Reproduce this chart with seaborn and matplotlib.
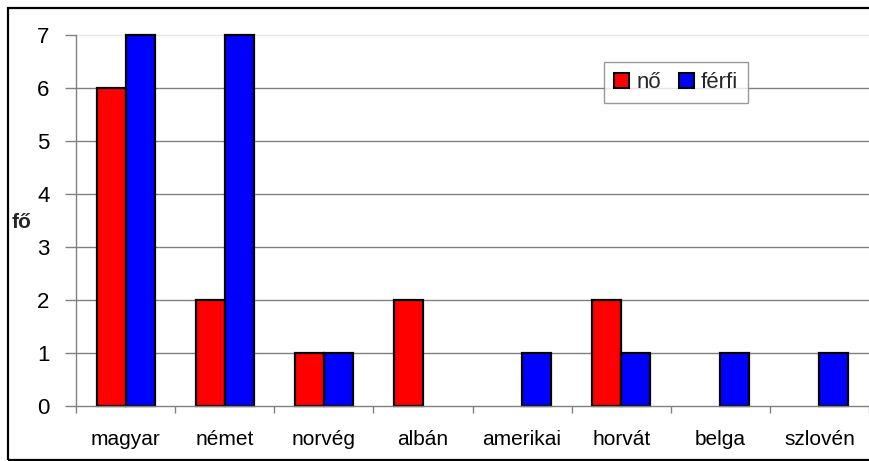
import matplotlib
matplotlib.use("Agg")
import matplotlib.pyplot as plt
from matplotlib.patches import Rectangle
import seaborn as sns
import pandas as pd
import numpy as np

# Nationality categories and head counts per gender
categories = ["magyar", "német", "norvég", "albán", "amerikai", "horvát", "belga", "szlovén"]
no_values = [6, 2, 1, 2, 0, 2, 0, 0]      # nő
ferfi_values = [7, 7, 1, 0, 1, 1, 1, 1]   # férfi
series_names = ["nő", "férfi"]
y_ticks = [0, 1, 2, 3, 4, 5, 6, 7]
y_label = "fő"

rows = []
for cat, n, f in zip(categories, no_values, ferfi_values):
    rows.append({"nemzetiség": cat, "nem": series_names[0], "fő": n if n else np.nan})
    rows.append({"nemzetiség": cat, "nem": series_names[1], "fő": f if f else np.nan})
df = pd.DataFrame(rows)

sns.set_theme(style="white")
plt.rcParams["font.family"] = ["Liberation Sans", "DejaVu Sans"]

fig = plt.figure(figsize=(8.69, 4.61), dpi=100)
ax = fig.add_axes([76 / 869, 1 - 406 / 461, 1 - 76 / 869, (406 - 35) / 461])

# Horizontal gridlines drawn under the bars
for v in y_ticks[1:-1]:
    ax.axhline(v, color="#808080", lw=1.0, zorder=0)

sns.barplot(
    data=df, x="nemzetiség", y="fő", hue="nem", order=categories,
    hue_order=series_names, palette={"nő": "#ff0000", "férfi": "#0000ff"},
    width=0.585, gap=0, edgecolor="black", linewidth=1.6, saturation=1,
    errorbar=None, ax=ax, zorder=2,
)
for p in ax.patches:
    p.set_clip_on(False)

ax.set_xlim(-0.5, len(categories) - 0.5)
ax.set_ylim(0, 7)
ax.set_yticks(y_ticks)
ax.set_yticklabels([str(t) for t in y_ticks], fontsize=16)
ax.set_xticks(range(len(categories)))
ax.set_xticklabels(categories, fontsize=15)
ax.set_xlabel("")
ax.set_ylabel("")

# Category separators as small downward ticks on the x axis
ax.set_xticks(np.arange(-0.5, len(categories) - 0.5 + 0.01, 1.0), minor=True)
ax.tick_params(axis="x", which="major", length=0, pad=17, colors="black")
ax.tick_params(axis="x", which="minor", length=5, width=1, color="#808080", direction="out", bottom=True)
ax.tick_params(axis="y", which="major", length=8, width=1, color="#808080", direction="out",
               pad=11, left=True, labelcolor="black")

ax.spines["right"].set_visible(False)
ax.spines["left"].set_color("#808080")
ax.spines["left"].set_linewidth(1)
ax.spines["bottom"].set_color("#808080")
ax.spines["bottom"].set_linewidth(1)
ax.spines["top"].set_color("#e6e6e6")
ax.spines["top"].set_linewidth(1)
ax.spines["top"].set_zorder(0.5)

# Legend box
handles, labels = ax.get_legend_handles_labels()
if ax.legend_:
    ax.legend_.remove()
leg = fig.legend(
    handles, labels, loc="center", bbox_to_anchor=(676 / 869, 1 - 83 / 461),
    ncol=2, fontsize=16, frameon=True, fancybox=False, edgecolor="#808080",
    handlelength=0.7, handleheight=0.7, handletextpad=0.3, columnspacing=0.8,
    borderpad=0.45, borderaxespad=0,
)
leg.get_frame().set_linewidth(1)
for h in leg.legend_handles:
    h.set_edgecolor("black")
    h.set_linewidth(1.5)

# Vertical axis caption
fig.text(22 / 869, 1 - 222 / 461, y_label, fontsize=15, fontweight="bold",
         ha="center", va="center")

# Outer chart frame
fig.patches.append(Rectangle((8 / 869, 1 - 460 / 461), 1.0, (460 - 8) / 461,
                             transform=fig.transFigure, fill=False,
                             edgecolor="black", linewidth=1.6, zorder=10))

fig.savefig("out.png", dpi=100)
